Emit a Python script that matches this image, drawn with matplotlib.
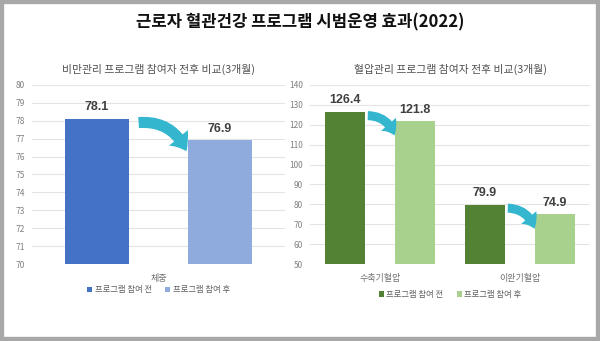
import matplotlib
matplotlib.use("Agg")
import matplotlib.pyplot as plt
from matplotlib.patches import Rectangle

plt.rcParams["font.family"] = ["Noto Sans CJK KR", "DejaVu Sans"]

TITLE = "근로자 혈관건강 프로그램 시범운영 효과(2022)"
SERIES = ["프로그램 참여 전", "프로그램 참여 후"]

# 비만관리: 체중
obese_title = "비만관리 프로그램 참여자 전후 비교(3개월)"
obese_cats = ["체중"]
obese_before = [78.1]
obese_after = [76.9]
obese_ticks = list(range(70, 81))

# 혈압관리: 수축기/이완기
bp_title = "혈압관리 프로그램 참여자 전후 비교(3개월)"
bp_cats = ["수축기혈압", "이완기혈압"]
bp_before = [126.4, 79.9]
bp_after = [121.8, 74.9]
bp_ticks = list(range(50, 141, 10))

ARROW_C = "#35b6cf"
GRID_C = "#e4e4e4"
TXT_C = "#404040"


def draw_panel(ax, title, cats, before, after, ticks, colors, width, offset,
               xlim, legend_y, arrow_gap, arrow_drop, arrow_scale):
    xs = list(range(len(cats)))
    ax.set_ylim(ticks[0], ticks[-1])
    ax.set_xlim(*xlim)
    ax.set_yticks(ticks)
    ax.yaxis.grid(True, color=GRID_C, lw=0.8)
    ax.set_axisbelow(True)
    for s in ax.spines.values():
        s.set_visible(False)
    ax.tick_params(length=0, labelsize=6, labelcolor="#808080", pad=5)
    ax.set_xticks(xs)
    ax.set_xticklabels(cats, fontsize=6.5, color="#707070")
    ax.tick_params(axis="x", pad=7)

    b1 = ax.bar([x - offset for x in xs], before, width, color=colors[0],
                label=SERIES[0], zorder=2)
    b2 = ax.bar([x + offset for x in xs], after, width, color=colors[1],
                label=SERIES[1], zorder=2)
    for bars, vals in ((b1, before), (b2, after)):
        for r, v in zip(bars, vals):
            ax.annotate(f"{v}", (r.get_x() + r.get_width() / 2, v),
                        xytext=(0, 4), textcoords="offset points",
                        ha="center", va="bottom", fontsize=9,
                        fontweight="bold", color=TXT_C, family="Liberation Sans")

    # 감소 표시 화살표
    span = ticks[-1] - ticks[0]
    for x, v0, v1 in zip(xs, before, after):
        start = (x - offset + width / 2 + arrow_gap, v0 - span * 0.02)
        end = (x + offset - width / 2 - arrow_gap * 0.2, v1 - span * arrow_drop)
        ax.annotate("", xy=end, xytext=start,
                    arrowprops=dict(arrowstyle="simple,head_length=0.7,head_width=1.1,tail_width=0.5",
                                    connectionstyle="arc3,rad=-0.35",
                                    color=ARROW_C, lw=0, shrinkA=0, shrinkB=0,
                                    mutation_scale=arrow_scale))

    ax.set_title(title, fontsize=7.8, color="#505050", pad=9)
    ax.legend(loc="center", bbox_to_anchor=(0.5, legend_y), ncol=2, frameon=False,
              fontsize=6, labelcolor="#606060", handlelength=0.6, handleheight=0.6,
              handletextpad=0.3, columnspacing=1.6)


fig = plt.figure(figsize=(6, 3.41), dpi=100)
fig.patch.set_facecolor("white")

# 바깥 회색 테두리
fig.add_artist(Rectangle((0, 0), 1, 1, transform=fig.transFigure, fill=False,
                         edgecolor="#a8a8a8", lw=6))

fig.text(0.5, 0.935, TITLE, ha="center", va="center", fontsize=12,
         fontweight="bold", color="#111111")

ax1 = fig.add_axes([0.0533, 0.2258, 0.4217, 0.525])
draw_panel(ax1, obese_title, obese_cats, obese_before, obese_after, obese_ticks,
           ["#4472c4", "#8faadc"], 0.5, 0.487, (-1, 1), -0.145, 0.08, 0.06, 16)

ax2 = fig.add_axes([0.5167, 0.2258, 0.4667, 0.525])
draw_panel(ax2, bp_title, bp_cats, bp_before, bp_after, bp_ticks,
           ["#548235", "#a9d18e"], 0.285, 0.25, (-0.5, 1.5), -0.17, 0.02, 0.08, 13)

fig.savefig("out.png", dpi=100)
